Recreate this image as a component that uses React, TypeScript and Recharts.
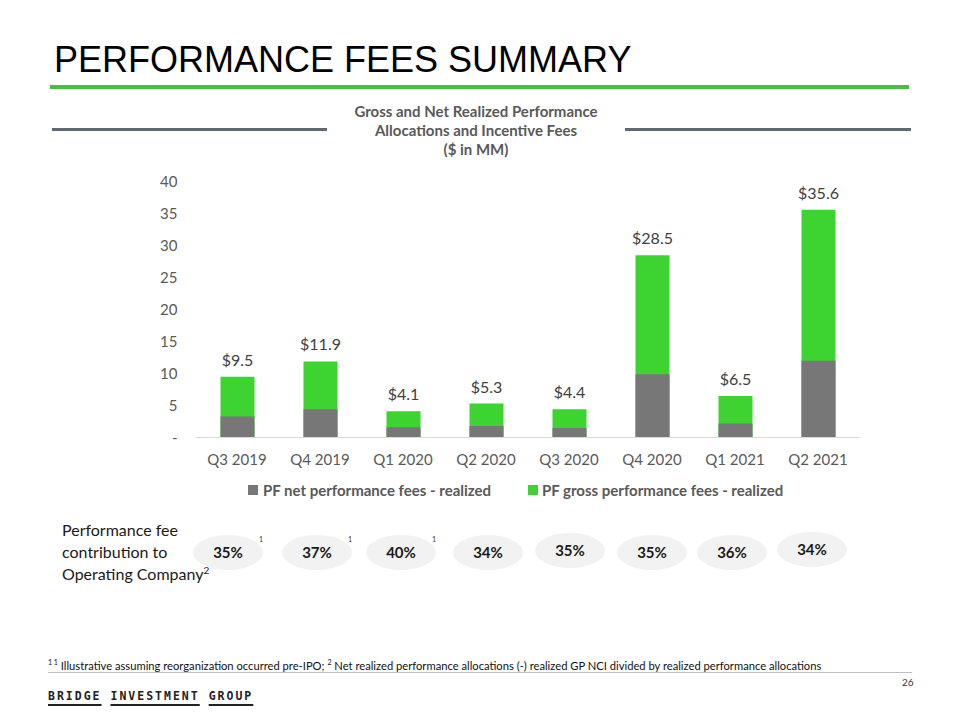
import React from "react";
import { BarChart, Bar, XAxis, YAxis, LabelList } from "recharts";

const quarters = ["Q3 2019", "Q4 2019", "Q1 2020", "Q2 2020", "Q3 2020", "Q4 2020", "Q1 2021", "Q2 2021"];
const grossFees = [9.5, 11.9, 4.1, 5.3, 4.4, 28.5, 6.5, 35.6];
const netFees = [3.3, 4.4, 1.6, 1.8, 1.5, 9.9, 2.2, 12.0];
const yTicks = [0, 5, 10, 15, 20, 25, 30, 35, 40];
const contribution = ["35%", "37%", "40%", "34%", "35%", "35%", "36%", "34%"];
const illustrative = [true, true, true, false, false, false, false, false];

const GRAY = "#777777";
const GREEN = "#3dd431";
const TEXT = "#595959";
const FONT = "Lato, 'Open Sans', sans-serif";

// pill centres on the slide (layout only)
const pillX = [228, 317, 401, 488, 570, 652, 732, 812];
const pillY = [552, 552, 552, 552, 550, 552, 552, 549];

const data = quarters.map((q, i) => ({ quarter: q, gross: grossFees[i], net: netFees[i] }));

export default function App() {
  return (
    <div style={{ position: "absolute", left: 0, top: 0, width: 960, height: 720, background: "#fff", fontFamily: FONT, overflow: "hidden" }}>
      <div style={{ position: "absolute", left: 54, top: 36, fontFamily: "'Liberation Sans', Arial, sans-serif", fontSize: 36, color: "#000", lineHeight: "48px" }}>
        PERFORMANCE FEES SUMMARY
      </div>
      <div style={{ position: "absolute", left: 50, top: 85, width: 859, height: 4, background: "#45c23b" }} />

      <div style={{ position: "absolute", left: 52, top: 128, width: 275, height: 3, background: "#5f6a70" }} />
      <div style={{ position: "absolute", left: 625, top: 128, width: 286, height: 3, background: "#5f6a70" }} />
      <div style={{ position: "absolute", left: 328, top: 102, width: 296, textAlign: "center", fontWeight: 700, fontSize: 15, lineHeight: "19px", color: TEXT }}>
        Gross and Net Realized Performance
        <br />
        Allocations and Incentive Fees
        <br />($ in MM)
      </div>

      <div style={{ position: "absolute", left: 0, top: 160 }}>
        <BarChart
          width={960}
          height={320}
          data={data}
          margin={{ top: 21.7, right: 100.5, bottom: 12.5, left: 135.5 }}
          barSize={34}
          barGap={-34}
        >
          <XAxis
            dataKey="quarter"
            height={30}
            tickLine={false}
            axisLine={{ stroke: "#d9d9d9" }}
            tickMargin={11}
            tick={{ fill: TEXT, fontSize: 15, fontFamily: FONT }}
          />
          <YAxis
            width={60}
            domain={[0, 40]}
            ticks={yTicks}
            interval={0}
            tickLine={false}
            axisLine={false}
            tickMargin={12}
            tickFormatter={(v: number) => (v === 0 ? "-" : String(v))}
            tick={{ fill: TEXT, fontSize: 15, fontFamily: FONT }}
          />
          <Bar dataKey="gross" fill={GREEN} isAnimationActive={false}>
            <LabelList
              dataKey="gross"
              position="top"
              offset={11}
              formatter={(v: any) => `$${Number(v).toFixed(1)}`}
              style={{ fill: "#404040", fontSize: 16, fontFamily: FONT }}
            />
          </Bar>
          <Bar dataKey="net" fill={GRAY} isAnimationActive={false} />
        </BarChart>
      </div>

      <div style={{ position: "absolute", left: 0, top: 480, width: 960, display: "flex", fontSize: 15, fontWeight: 700, color: TEXT, lineHeight: "20px" }}>
        <div style={{ position: "absolute", left: 248, display: "flex", alignItems: "center" }}>
          <span style={{ width: 10, height: 10, background: GRAY, marginRight: 5 }} />
          PF net performance fees - realized
        </div>
        <div style={{ position: "absolute", left: 528, display: "flex", alignItems: "center" }}>
          <span style={{ width: 10, height: 10, background: GREEN, marginRight: 4 }} />
          PF gross performance fees - realized
        </div>
      </div>

      <div style={{ position: "absolute", left: 62, top: 519, fontSize: 16, lineHeight: "22px", color: "#1a1a1a" }}>
        Performance fee
        <br />
        contribution to
        <br />
        Operating Company<sup style={{ fontSize: 10, lineHeight: 0 }}>2</sup>
      </div>

      {contribution.map((p, i) => (
        <React.Fragment key={quarters[i]}>
          <div
            style={{
              position: "absolute",
              left: pillX[i] - 35,
              top: pillY[i] - 17.5,
              width: 70,
              height: 35,
              borderRadius: "50%",
              background: "#f2f2f2",
              display: "flex",
              alignItems: "center",
              justifyContent: "center",
              fontWeight: 700,
              fontSize: 15,
              color: "#1a1a1a",
            }}
          >
            {p}
          </div>
          {illustrative[i] && (
            <div style={{ position: "absolute", left: pillX[i] + 31, top: 535, fontSize: 7, color: "#333" }}>1</div>
          )}
        </React.Fragment>
      ))}

      <div style={{ position: "absolute", left: 48, top: 654, fontSize: 11.2, color: "#111", whiteSpace: "nowrap", lineHeight: "16px" }}>
        <sup style={{ fontSize: 7 }}>1 1</sup> Illustrative assuming reorganization occurred pre-IPO; <sup style={{ fontSize: 7 }}>2</sup> Net realized
        performance allocations (-) realized GP NCI divided by realized performance allocations
      </div>
      <div style={{ position: "absolute", left: 48, top: 672, width: 864, height: 1, background: "#bfbfbf" }} />
      <div style={{ position: "absolute", left: 902, top: 676, fontSize: 10, color: "#333" }}>26</div>

      <div
        style={{
          position: "absolute",
          left: 48,
          top: 689,
          fontFamily: "'DejaVu Sans Mono', monospace",
          fontWeight: 700,
          fontSize: 11.5,
          letterSpacing: 2,
          color: "#222",
          whiteSpace: "nowrap",
        }}
      >
        {["BRIDGE", "INVESTMENT", "GROUP"].map((w, i) => (
          <span key={w}>
            <span style={{ textDecoration: "underline", textDecorationThickness: 2, textUnderlineOffset: 4 }}>{w}</span>
            {i < 2 ? " " : ""}
          </span>
        ))}
      </div>
    </div>
  );
}
